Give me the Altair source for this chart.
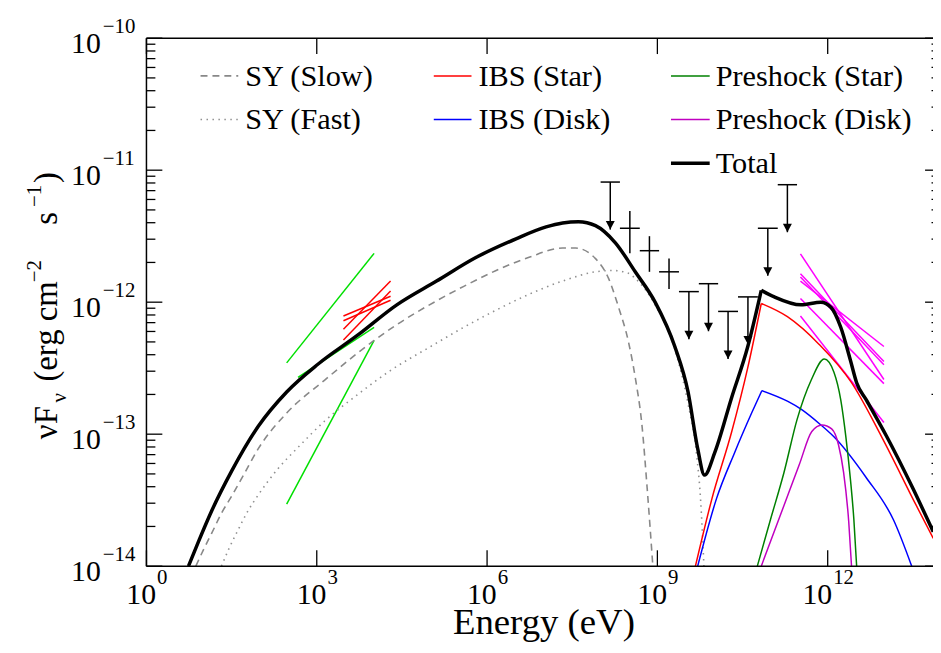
import altair as alt
import pandas as pd

FONT = "Liberation Serif"

# ---------------- data (log10 values) ----------------
# Total model
tot_logE = [0.74, 0.92, 1.15, 1.50, 1.97, 2.47, 3.02, 3.72, 4.41, 5.11,
            5.81, 6.51, 7.04, 7.33, 7.61, 7.91, 8.26, 8.61, 8.96, 9.31,
            9.54, 9.71, 9.83, 10.01, 10.31, 10.59, 10.83, 11.06, 11.53, 11.88,
            12.06, 12.23, 12.40, 12.51, 12.68, 13.03, 13.50, 13.86]
tot_logF = [-14.0, -13.81, -13.58, -13.28, -12.94, -12.68, -12.47, -12.25, -12.02, -11.84,
            -11.66, -11.52, -11.43, -11.40, -11.39, -11.42, -11.55, -11.77, -12.00, -12.34,
            -12.68, -13.11, -13.31, -13.14, -12.72, -12.34, -11.91, -11.96, -12.02, -12.00,
            -12.04, -12.19, -12.44, -12.61, -12.74, -13.01, -13.41, -13.74]

# SY (Slow)
sys_logE = [0.87, 1.01, 1.15, 1.32, 1.50, 1.71, 1.97, 2.47, 3.14, 4.01,
            4.41, 5.11, 5.59, 6.16, 6.74, 7.33, 7.56, 7.91, 8.14, 8.31,
            8.49, 8.61, 8.73, 8.82, 8.92]
sys_logF = [-14.0, -13.87, -13.75, -13.60, -13.47, -13.31, -13.11, -12.84, -12.59, -12.29,
            -12.17, -11.99, -11.88, -11.76, -11.66, -11.59, -11.59, -11.67, -11.82, -12.03,
            -12.30, -12.57, -12.94, -13.41, -14.0]

# SY (Fast)
syf_logE = [1.32, 1.44, 1.62, 1.79, 1.97, 2.32, 2.67, 3.14, 3.72, 4.29,
            4.99, 5.59, 6.16, 6.74, 7.33, 7.91, 8.21, 8.49, 8.61, 8.96,
            9.31, 9.54, 9.69, 9.76, 9.82]
syf_logF = [-14.0, -13.88, -13.72, -13.58, -13.46, -13.26, -13.10, -12.90, -12.70, -12.52,
            -12.34, -12.19, -12.06, -11.94, -11.84, -11.77, -11.76, -11.78, -11.82, -12.02,
            -12.36, -12.77, -13.15, -13.49, -14.0]

# IBS (Star)
ibs_s_logE = [9.67, 9.96, 10.31, 10.59, 10.83, 11.29, 11.85, 12.42, 12.95, 13.56, 13.86]
ibs_s_logF = [-14.0, -13.49, -12.98, -12.50, -12.01, -12.11, -12.32, -12.61, -13.02, -13.54, -13.79]

# IBS (Disk)
ibs_d_logE = [9.71, 10.04, 10.36, 10.66, 10.84, 11.29, 11.53, 11.88, 12.11, 12.68, 13.16, 13.48]
ibs_d_logF = [-14.0, -13.49, -13.14, -12.84, -12.67, -12.75, -12.81, -12.93, -13.02, -13.33, -13.65, -14.0]

# Preshock (Star)
pre_s_logE = [10.76, 10.99, 11.23, 11.46, 11.71, 11.94, 12.11, 12.23, 12.32, 12.40, 12.46, 12.51]
pre_s_logF = [-14.0, -13.65, -13.29, -12.89, -12.59, -12.43, -12.53, -12.74, -13.02, -13.34, -13.64, -14.0]

# Preshock (Disk)
pre_d_logE = [10.83, 11.23, 11.50, 11.72, 11.90, 12.07, 12.19, 12.28, 12.37, 12.42]
pre_d_logF = [-14.0, -13.54, -13.23, -12.98, -12.93, -12.96, -13.08, -13.29, -13.66, -14.0]

# X-ray bow-tie (green)
gx_logE1 = [2.47, 2.67, 2.47]
gx_logE2 = [4.01, 4.01, 4.01]
gx_logF1 = [-12.46, -12.57, -13.53]
gx_logF2 = [-11.63, -12.19, -12.29]

# X-ray bow-tie (red)
rx_logE1 = [3.47, 3.47, 3.47, 3.47]
rx_logE2 = [4.30, 4.30, 4.30, 4.30]
rx_logF1 = [-12.105, -12.141, -12.205, -12.286]
rx_logF2 = [-11.955, -11.985, -11.840, -11.915]

# TeV bow-tie (magenta)
mt_logE1 = [11.52] * 6
mt_logE2 = [12.99] * 6
mt_logF1 = [-11.634, -11.784, -11.810, -11.840, -11.972, -12.105]
mt_logF2 = [-12.586, -12.449, -12.474, -12.336, -12.617, -12.912]

# GeV flux points
pt_logElo = [8.34, 8.69, 9.03]
pt_logEhi = [8.69, 9.03, 9.38]
pt_logF = [-11.44, -11.61, -11.77]
pt_logFlo = [-11.63, -11.77, -11.90]
pt_logFhi = [-11.31, -11.50, -11.67]

# upper limits
ul_logElo = [8.00, 9.38, 9.73, 10.07, 10.42, 10.77, 11.12]
ul_logEhi = [8.34, 9.73, 10.07, 10.42, 10.77, 11.12, 11.46]
ul_logF = [-11.09, -11.92, -11.86, -12.07, -11.96, -11.44, -11.11]

# axis ticks
x_major_exp = ["0", "3", "6", "9", "12"]
y_major_exp = ["−14", "−13", "−12", "−11", "−10"]

# ---------------- layout ----------------
W, H = 792.5, 532.0
PX_PER_DEC = 57.2
X_MAX = 10 ** (W / PX_PER_DEC)
ARROW_DEX = 0.36

xs = alt.Scale(type="log", domain=[1.0, X_MAX], nice=False)
ys = alt.Scale(type="log", domain=[1e-14, 1e-10], nice=False)


def ex(f):
    return alt.X(f + ":Q", scale=xs, axis=None)


def ey(f):
    return alt.Y(f + ":Q", scale=ys, axis=None)


layers = []

# bow-ties (drawn first)
for e1, e2, f1, f2, col in [
    (gx_logE1, gx_logE2, gx_logF1, gx_logF2, "#00e000"),
    (rx_logE1, rx_logE2, rx_logF1, rx_logF2, "#ff0000"),
    (mt_logE1, mt_logE2, mt_logF1, mt_logF2, "#ff00ff"),
]:
    df = pd.DataFrame({
        "E1": [10 ** v for v in e1], "E2": [10 ** v for v in e2],
        "F1": [10 ** v for v in f1], "F2": [10 ** v for v in f2],
    })
    layers.append(alt.Chart(df).mark_rule(color=col, strokeWidth=1.5).encode(
        x=ex("E1"), x2=alt.X2("E2:Q"), y=ey("F1"), y2=alt.Y2("F2:Q")))

# model curves: (name, logE, logF, colour, dash, width, corner energies)
series = [
    ("SY (Slow)", sys_logE, sys_logF, "#888888", [7, 5], 1.6, []),
    ("SY (Fast)", syf_logE, syf_logF, "#909090", [1.5, 4.5], 1.6, []),
    ("IBS (Star)", ibs_s_logE, ibs_s_logF, "#ff0000", None, 1.5, [10.83]),
    ("IBS (Disk)", ibs_d_logE, ibs_d_logF, "#0000ff", None, 1.5, [10.84]),
    ("Preshock (Star)", pre_s_logE, pre_s_logF, "#008000", None, 1.5, []),
    ("Preshock (Disk)", pre_d_logE, pre_d_logF, "#c000c0", None, 1.5, []),
    ("Total", tot_logE, tot_logF, "#000000", None, 3.5, [10.83]),
]
for name, le, lf, col, dash, sw, corners in series:
    rows = []
    for i, (a, b) in enumerate(zip(le, lf)):
        seg = sum(1 for c in corners if a > c)
        rows.append({"i": i, "seg": seg, "E": 10 ** a, "F": 10 ** b})
        if a in corners:  # corner point starts the next segment too
            rows.append({"i": i, "seg": seg + 1, "E": 10 ** a, "F": 10 ** b})
    df = pd.DataFrame(rows)
    kw = dict(color=col, strokeWidth=sw, interpolate="monotone", clip=True)
    if dash:
        kw["strokeDash"] = dash
    layers.append(alt.Chart(df).mark_line(**kw).encode(
        x=ex("E"), y=ey("F"), order="i:Q", detail="seg:N"))

# flux points with error bars
pts = pd.DataFrame({
    "Elo": [10 ** v for v in pt_logElo], "Ehi": [10 ** v for v in pt_logEhi],
    "Ec": [10 ** ((a + b) / 2) for a, b in zip(pt_logElo, pt_logEhi)],
    "F": [10 ** v for v in pt_logF],
    "Flo": [10 ** v for v in pt_logFlo], "Fhi": [10 ** v for v in pt_logFhi],
})
layers.append(alt.Chart(pts).mark_rule(color="black", strokeWidth=1.5).encode(
    x=ex("Elo"), x2=alt.X2("Ehi:Q"), y=ey("F")))
layers.append(alt.Chart(pts).mark_rule(color="black", strokeWidth=1.5).encode(
    x=ex("Ec"), y=ey("Flo"), y2=alt.Y2("Fhi:Q")))

# upper limits
uls = pd.DataFrame({
    "Elo": [10 ** v for v in ul_logElo], "Ehi": [10 ** v for v in ul_logEhi],
    "Ec": [10 ** ((a + b) / 2) for a, b in zip(ul_logElo, ul_logEhi)],
    "F": [10 ** v for v in ul_logF],
    "Ftip": [10 ** (v - ARROW_DEX) for v in ul_logF],
})
layers.append(alt.Chart(uls).mark_rule(color="black", strokeWidth=1.5).encode(
    x=ex("Elo"), x2=alt.X2("Ehi:Q"), y=ey("F")))
layers.append(alt.Chart(uls).mark_rule(color="black", strokeWidth=1.5).encode(
    x=ex("Ec"), y=ey("F"), y2=alt.Y2("Ftip:Q")))
layers.append(alt.Chart(uls).mark_point(
    shape="M-1,-1.9L1,-1.9L0,0Z", filled=True, color="black", size=81,
    opacity=1, strokeWidth=0).encode(x=ex("Ec"), y=ey("Ftip")))

# ---------------- frame and ticks ----------------
frame_col = "#000000"
one = pd.DataFrame({"a": [0]})
layers.append(alt.Chart(one).mark_rule(color=frame_col, strokeWidth=1.5).encode(
    x=alt.value(0), x2=alt.value(W), y=alt.value(0)))
layers.append(alt.Chart(one).mark_rule(color=frame_col, strokeWidth=1.5).encode(
    x=alt.value(0), x2=alt.value(W), y=alt.value(H)))
layers.append(alt.Chart(one).mark_rule(color=frame_col, strokeWidth=1.5).encode(
    x=alt.value(0), y=alt.value(0), y2=alt.value(H)))

ymaj = pd.DataFrame({"v": [10.0 ** -n for n in (14, 13, 12, 11, 10)], "t": y_major_exp})
ymin = pd.DataFrame({"v": [k * 10.0 ** n for n in range(-14, -10) for k in range(2, 10)]})
xmaj = pd.DataFrame({"v": [10.0 ** int(e) for e in x_major_exp], "t": x_major_exp})

layers.append(alt.Chart(ymaj).mark_rule(color=frame_col, strokeWidth=1.3).encode(
    y=ey("v"), x=alt.value(0), x2=alt.value(16)))
layers.append(alt.Chart(ymin).mark_rule(color=frame_col, strokeWidth=1.3).encode(
    y=ey("v"), x=alt.value(0), x2=alt.value(9)))
layers.append(alt.Chart(ymaj).mark_rule(color=frame_col, strokeWidth=1.3).encode(
    y=ey("v"), x=alt.value(W - 8), x2=alt.value(W)))
layers.append(alt.Chart(ymin).mark_rule(color=frame_col, strokeWidth=1.3).encode(
    y=ey("v"), x=alt.value(W - 1.5), x2=alt.value(W)))
layers.append(alt.Chart(xmaj).mark_rule(color=frame_col, strokeWidth=1.3).encode(
    x=ex("v"), y=alt.value(H), y2=alt.value(H - 16)))
layers.append(alt.Chart(xmaj).mark_rule(color=frame_col, strokeWidth=1.3).encode(
    x=ex("v"), y=alt.value(0), y2=alt.value(16)))

# tick labels
BIG, SMALL = 30, 21
layers.append(alt.Chart(ymaj).mark_text(font=FONT, fontSize=BIG, align="right",
                                        baseline="alphabetic", dy=15, color="black").encode(
    x=alt.value(-46), y=ey("v"), text=alt.value("10")))
layers.append(alt.Chart(ymaj).mark_text(font=FONT, fontSize=SMALL, align="left",
                                        baseline="alphabetic", dy=-5, color="black").encode(
    x=alt.value(-44), y=ey("v"), text="t:N"))

for ndig in (1, 2):
    sub = xmaj[xmaj["t"].str.len() == ndig]
    off = 15 - 5.25 * ndig
    layers.append(alt.Chart(sub).mark_text(font=FONT, fontSize=BIG, align="right",
                                           baseline="alphabetic", dx=off, color="black").encode(
        x=ex("v"), y=alt.value(H + 38), text=alt.value("10")))
    layers.append(alt.Chart(sub).mark_text(font=FONT, fontSize=SMALL, align="left",
                                           baseline="alphabetic", dx=off + 1, color="black").encode(
        x=ex("v"), y=alt.value(H + 18), text="t:N"))

# axis titles
layers.append(alt.Chart(one).mark_text(font=FONT, fontSize=37, align="center",
                                       baseline="alphabetic", color="black").encode(
    x=alt.value(400.5), y=alt.value(600), text=alt.value("Energy (eV)")))

# y title pieces: (text, size, baseline x, start y) in plot coordinates
ytitle = [
    ("νF", 33, -90.5, 404),
    ("ν", 21, -81.5, 367),
    ("(erg cm", 33, -90.5, 346),
    ("−2", 21, -106.5, 246),
    ("s", 33, -90.5, 188),
    ("−1", 21, -106.5, 170),
    (")", 33, -90.5, 146),
]
for txt, fs, bx, sy in ytitle:
    layers.append(alt.Chart(one).mark_text(font=FONT, fontSize=fs, align="left",
                                           baseline="alphabetic", angle=270, color="black").encode(
        x=alt.value(bx), y=alt.value(sy), text=alt.value(txt)))

# ---------------- legend ----------------
leg_cols = [(54.5, 92.5, 99.5), (289.5, 327.5, 334.5), (528.5, 567.5, 573.5)]
leg_rows = [38, 82, 126]
legend = [
    ("SY (Slow)", 0, 0), ("SY (Fast)", 0, 1),
    ("IBS (Star)", 1, 0), ("IBS (Disk)", 1, 1),
    ("Preshock (Star)", 2, 0), ("Preshock (Disk)", 2, 1), ("Total", 2, 2),
]
style = {s[0]: s for s in series}
for name, c, r in legend:
    _, _, _, col, dash, sw, _ = style[name]
    x0, x1, tx = leg_cols[c]
    yy = leg_rows[r]
    kw = dict(color=col, strokeWidth=sw)
    if dash:
        kw["strokeDash"] = dash
    layers.append(alt.Chart(one).mark_rule(**kw).encode(
        x=alt.value(x0), x2=alt.value(x1), y=alt.value(yy)))
    layers.append(alt.Chart(one).mark_text(font=FONT, fontSize=30.5, align="left",
                                           baseline="alphabetic", color="black").encode(
        x=alt.value(tx), y=alt.value(yy + 10), text=alt.value(name)))

chart = alt.layer(*layers).properties(
    width=W, height=H,
    autosize=alt.AutoSizeParams(type="none"),
    padding={"left": 139.5, "top": 28, "right": 0, "bottom": 76},
    background="white",
).configure_view(stroke=None)

chart.save("out.html", embed_options={"renderer": "svg", "actions": False})
